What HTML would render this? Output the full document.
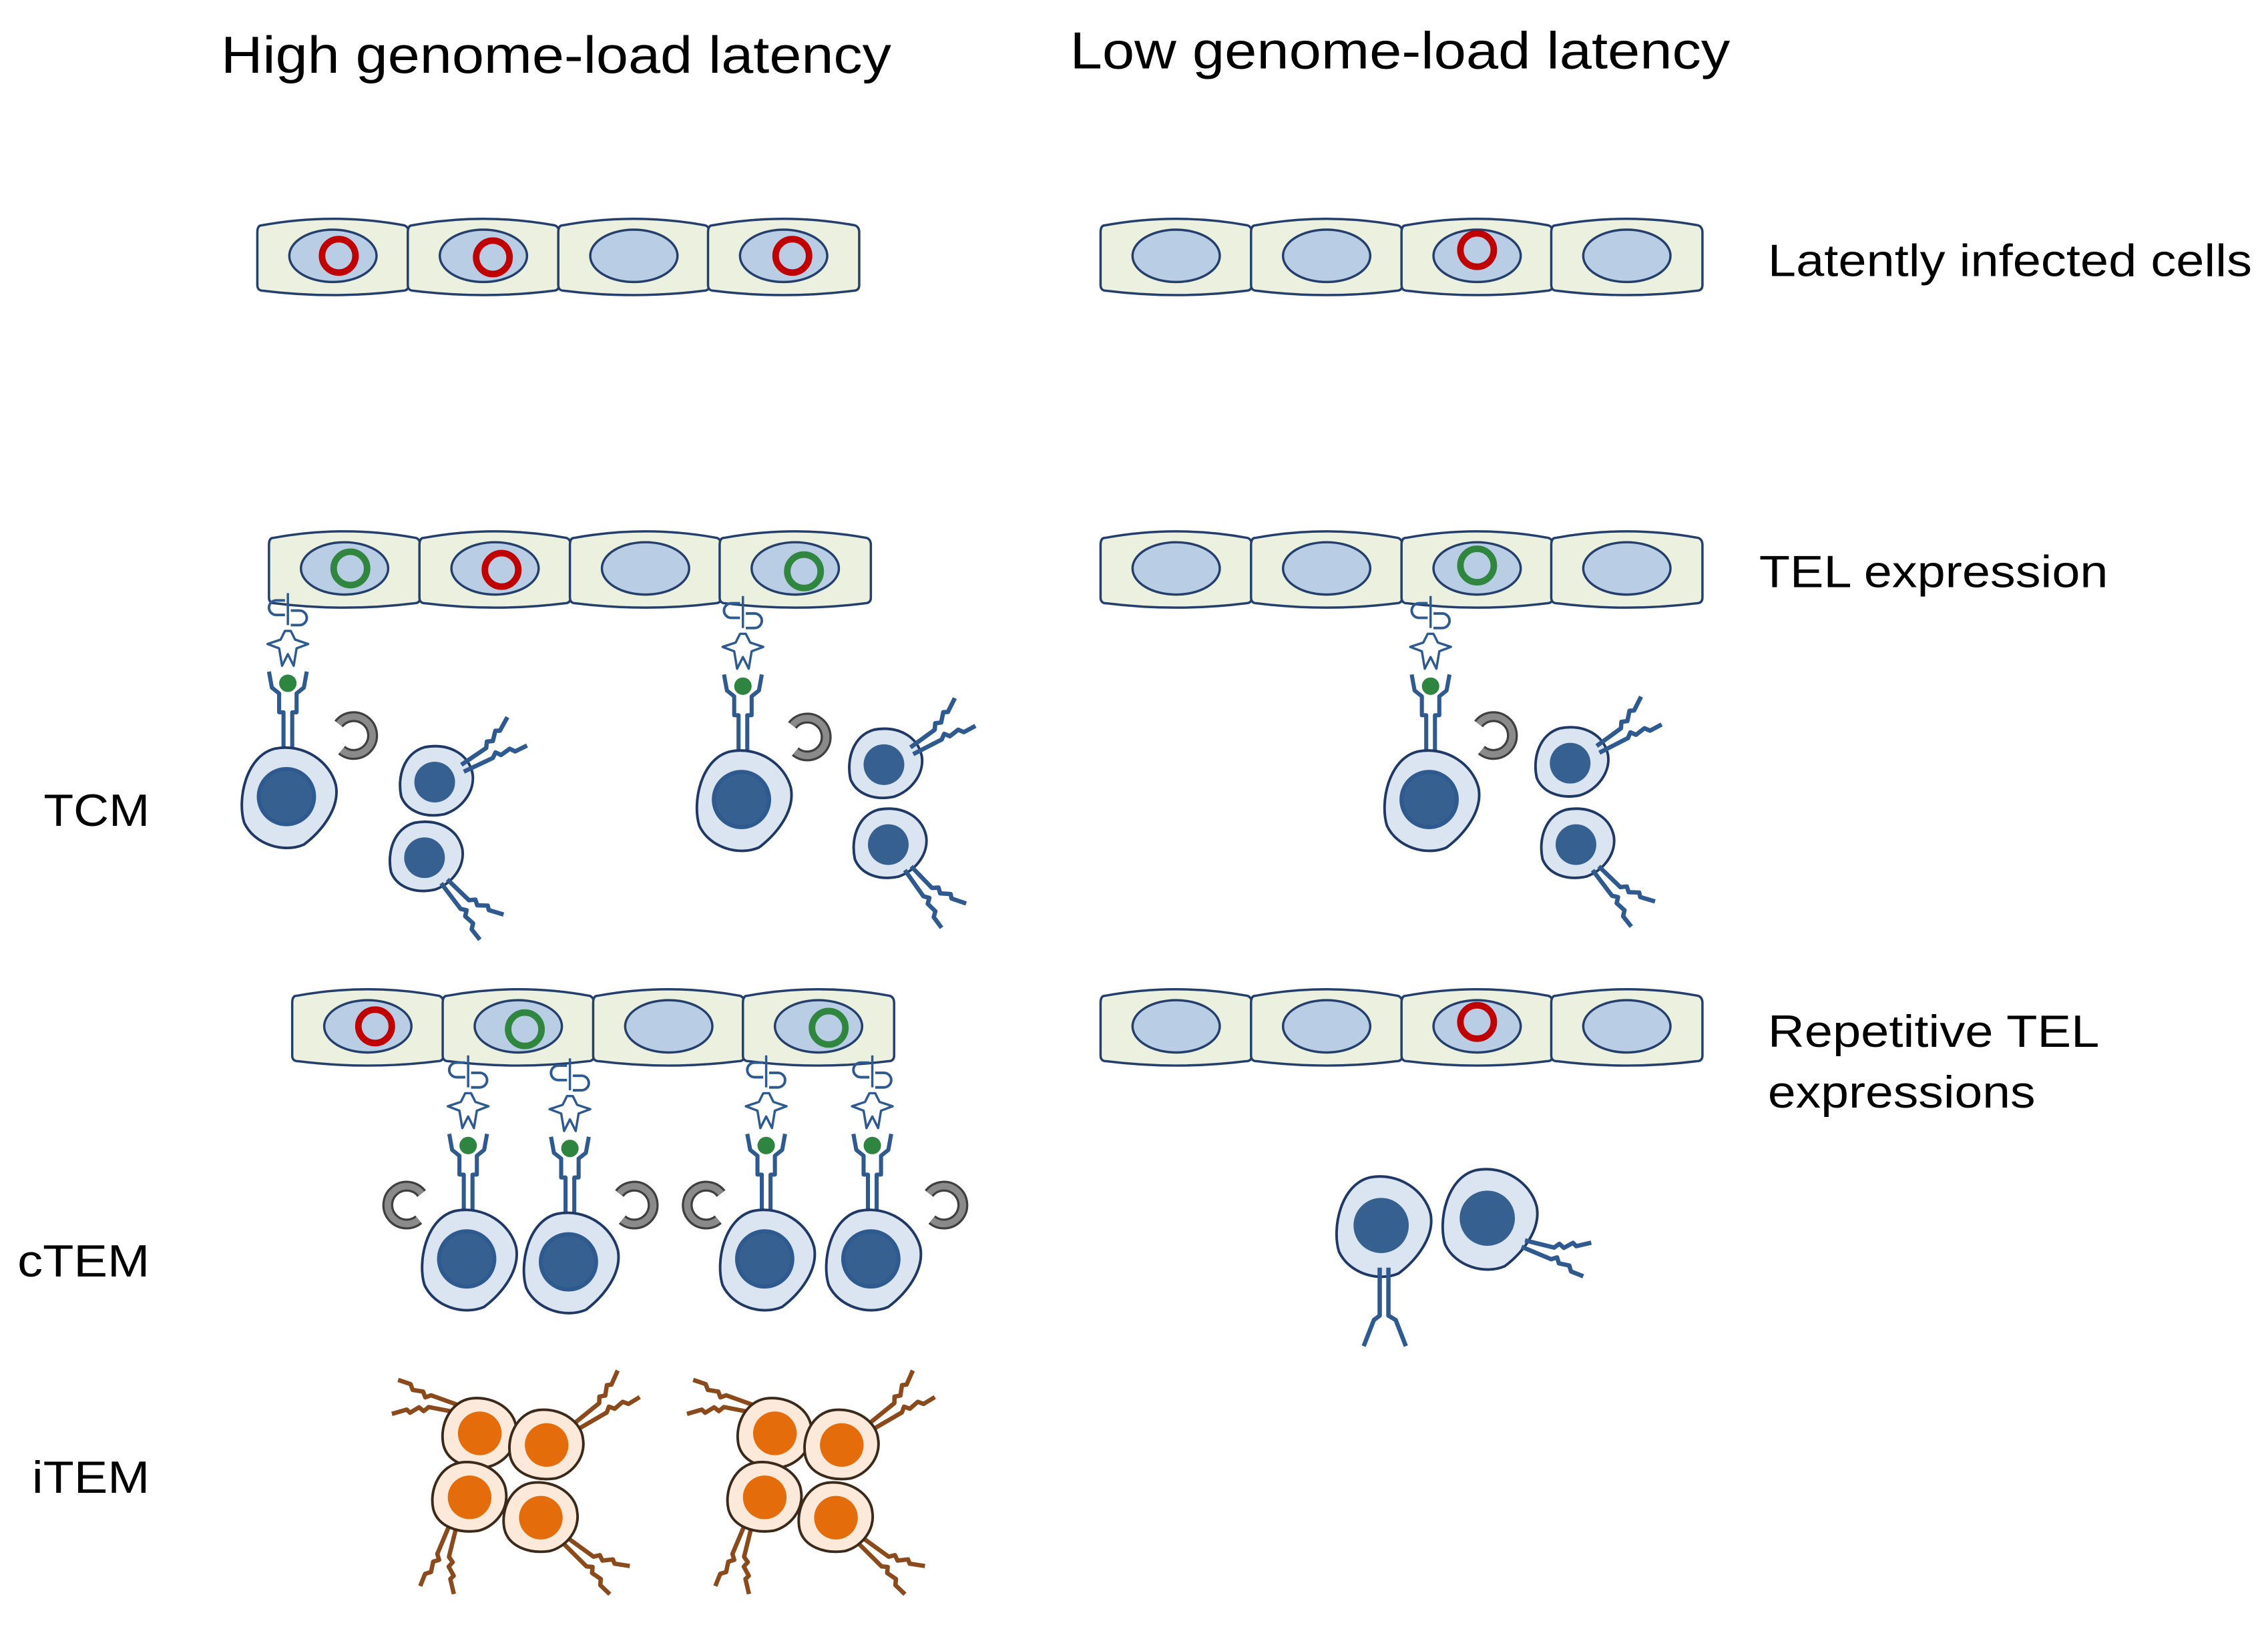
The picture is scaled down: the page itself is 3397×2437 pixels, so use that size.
<!DOCTYPE html>
<html><head><meta charset="utf-8"><style>
html,body{margin:0;padding:0;background:#fff;}
svg{display:block;}
text{font-family:"Liberation Sans",Arial,sans-serif;fill:#000;}
</style></head><body>
<svg width="3397" height="2437" viewBox="0 0 1560 1119.2" preserveAspectRatio="none" xmlns="http://www.w3.org/2000/svg">
<defs>
  <g id="epi">
    <path d="M3,5 Q52,-4 101,5 Q104,6 104,10 L104,46 Q104,50 100,50 Q52,56 4,50 Q0,50 0,46 L0,10 Q0,5 3,5Z" fill="#ebf1de" stroke="#243f6b" stroke-width="1.6"/>
    <ellipse cx="52" cy="26" rx="30" ry="18" fill="#b9cde5" stroke="#243f6b" stroke-width="1.6"/>
  </g>
  <circle id="red" r="11.5" fill="none" stroke="#c00000" stroke-width="4.5"/>
  <circle id="grn" r="11.5" fill="none" stroke="#31863f" stroke-width="4.5"/>
  <g id="tcellBig">
    <path d="M-10,-33 C10,-37 28,-24 32,-8 C35,8 22,24 10,33 C-4,39 -24,33 -31,18 C-36,2 -30,-28 -10,-33Z" fill="#dbe5f1" stroke="#1f3864" stroke-width="1.8"/>
    <circle cx="-2" cy="0" r="19" fill="#36608f"/>
  </g>
  <g id="rec">
    <path d="M0,-2 L20,-7 l2,-4 l4,1 l4,-6 l3,1 l8,-7" fill="none" stroke="currentColor" stroke-width="3" stroke-linejoin="round"/>
    <path d="M0,3 L22,1 l3,-3 l3,3 l7,-2 l3,3 l9,-1" fill="none" stroke="currentColor" stroke-width="3" stroke-linejoin="round"/>
  </g>
  <g id="tcellSmall">
    <path d="M-8,-24 C8,-27 22,-20 25,-6 C27,6 18,18 6,22 C-8,25 -20,20 -24,10 C-27,-4 -22,-20 -8,-24Z" fill="#dbe5f1" stroke="#1f3864" stroke-width="1.8"/>
    <circle cx="-1" cy="0" r="14" fill="#36608f"/>
  </g>
  <g id="act" stroke="#2f5a8f" fill="none" stroke-width="2.8" stroke-linejoin="round">
    <line x1="0" y1="-62" x2="0" y2="-40" stroke-width="1.6"/>
    <path d="M-2,-57 h-6 a5,5 0 0 0 0,10 h6 M2,-50 h6 a5,5 0 0 1 0,10 h-6" stroke-width="1.8"/>
    <path d="M-14,-27 L-5,-30 L-2,-36 L2,-36 L5,-30 L14,-27 L6,-24 L4,-12 L0,-20 L-4,-12 L-6,-24 Z" fill="#fff" stroke-width="1.6"/>
    <path d="M-13,-8 L-11,3 L-6,7 L-6,20 L-3,20 L-3,52 M13,-8 L11,3 L6,7 L6,20 L3,20 L3,52"/>
    <circle cx="0" cy="0" r="6" fill="#2e8540" stroke="none"/>
    <use href="#tcellBig" x="1" y="78"/>
  </g>
  <g id="ringR"><path d="M-10,-8 A13,13 0 1 1 -8,10" fill="none" stroke="#3f3f3f" stroke-width="7.5"/><path d="M-10,-8 A13,13 0 1 1 -8,10" fill="none" stroke="#8a8a8a" stroke-width="4.5"/></g>
  <g id="ringL" transform="scale(-1,1)"><use href="#ringR"/></g>
  <g id="orange">
    <path d="M-6,-24 C10,-26 24,-16 25,-4 C27,8 18,20 6,23 C-8,25 -22,20 -25,8 C-28,-6 -20,-22 -6,-24Z" fill="#fde9d9" stroke="#3b2a1a" stroke-width="1.8"/>
    <circle cx="0" cy="0" r="15" fill="#e46c0a"/>
  </g>
</defs>

<text x="152" y="50" font-size="36" textLength="461" lengthAdjust="spacingAndGlyphs">High genome-load latency</text>
<text x="736" y="47" font-size="36" textLength="454" lengthAdjust="spacingAndGlyphs">Low genome-load latency</text>
<text x="1216" y="190" font-size="31" textLength="333" lengthAdjust="spacingAndGlyphs">Latently infected cells</text>
<text x="1210" y="404" font-size="31" textLength="240" lengthAdjust="spacingAndGlyphs">TEL expression</text>
<text x="1216" y="720" font-size="31" textLength="228" lengthAdjust="spacingAndGlyphs">Repetitive TEL</text>
<text x="1216" y="762" font-size="31" textLength="184" lengthAdjust="spacingAndGlyphs">expressions</text>
<text x="30" y="568" font-size="31" textLength="73" lengthAdjust="spacingAndGlyphs">TCM</text>
<text x="12" y="878" font-size="31" textLength="91" lengthAdjust="spacingAndGlyphs">cTEM</text>
<text x="22" y="1027" font-size="31" textLength="81" lengthAdjust="spacingAndGlyphs">iTEM</text>

<g transform="translate(177,150)"><use href="#epi" x="0"/><use href="#epi" x="103.5"/><use href="#epi" x="207"/><use href="#epi" x="310"/></g>
<use href="#red" x="233" y="176"/><use href="#red" x="339" y="177"/><use href="#red" x="545" y="176"/>
<g transform="translate(757,150)"><use href="#epi" x="0"/><use href="#epi" x="103.5"/><use href="#epi" x="207"/><use href="#epi" x="310"/></g>
<use href="#red" x="1016" y="172"/>

<g transform="translate(185,365)"><use href="#epi" x="0"/><use href="#epi" x="103.5"/><use href="#epi" x="207"/><use href="#epi" x="310"/></g>
<use href="#grn" x="241" y="391"/><use href="#red" x="345" y="392"/><use href="#grn" x="553" y="393"/>
<g transform="translate(757,365)"><use href="#epi" x="0"/><use href="#epi" x="103.5"/><use href="#epi" x="207"/><use href="#epi" x="310"/></g>
<use href="#grn" x="1016" y="389"/>

<use href="#act" x="198" y="470"/>
<use href="#ringR" x="243" y="506"/>
<use href="#tcellSmall" x="300" y="538"/>
<use href="#rec" transform="translate(318,528) rotate(-20)" color="#2f5a8f"/>
<use href="#tcellSmall" x="293" y="590"/>
<use href="#rec" transform="translate(306,606) rotate(58)" color="#2f5a8f"/>

<use href="#act" x="511" y="472"/>
<use href="#ringR" x="555" y="507"/>
<use href="#tcellSmall" x="609" y="526"/>
<use href="#rec" transform="translate(627,516) rotate(-22)" color="#2f5a8f"/>
<use href="#tcellSmall" x="612" y="581"/>
<use href="#rec" transform="translate(625,597) rotate(60)" color="#2f5a8f"/>

<use href="#act" x="984" y="472"/>
<use href="#ringR" x="1027" y="506"/>
<use href="#tcellSmall" x="1081" y="525"/>
<use href="#rec" transform="translate(1099,515) rotate(-22)" color="#2f5a8f"/>
<use href="#tcellSmall" x="1085" y="581"/>
<use href="#rec" transform="translate(1098,597) rotate(58)" color="#2f5a8f"/>

<g transform="translate(201,680)"><use href="#epi" x="0"/><use href="#epi" x="103.5"/><use href="#epi" x="207"/><use href="#epi" x="310"/></g>
<use href="#red" x="258" y="706"/><use href="#grn" x="361" y="708"/><use href="#grn" x="570" y="707"/>
<g transform="translate(757,680)"><use href="#epi" x="0"/><use href="#epi" x="103.5"/><use href="#epi" x="207"/><use href="#epi" x="310"/></g>
<use href="#red" x="1016" y="703"/>

<use href="#act" x="322" y="788"/>
<use href="#act" x="392" y="790"/>
<use href="#act" x="527" y="788"/>
<use href="#act" x="600" y="788"/>
<use href="#ringL" x="280" y="829"/>
<use href="#ringR" x="436" y="829"/>
<use href="#ringL" x="486" y="829"/>
<use href="#ringR" x="649" y="829"/>

<use href="#tcellBig" x="952" y="843"/>
<path d="M949,872 V905 L945,908 L938,926 M955,872 V905 L960,908 L967,926" fill="none" stroke="#2f5a8f" stroke-width="3" stroke-linejoin="round"/>
<use href="#tcellBig" x="1025" y="838"/>
<use href="#rec" transform="translate(1048,855) rotate(28)" color="#2f5a8f"/>

<g id="clusterA">
  <use href="#rec" transform="translate(316,970) rotate(-155)" color="#8b4a1c"/>
  <use href="#rec" transform="translate(397,980) rotate(-25)" color="#8b4a1c"/>
  <use href="#rec" transform="translate(312,1050) rotate(118)" color="#8b4a1c"/>
  <use href="#rec" transform="translate(390,1060) rotate(50)" color="#8b4a1c"/>
  <use href="#orange" x="330" y="986"/>
  <use href="#orange" x="376" y="994"/>
  <use href="#orange" x="323" y="1030"/>
  <use href="#orange" x="372" y="1044"/>
</g>
<use href="#clusterA" x="203" y="0"/>
</svg>
</body></html>
